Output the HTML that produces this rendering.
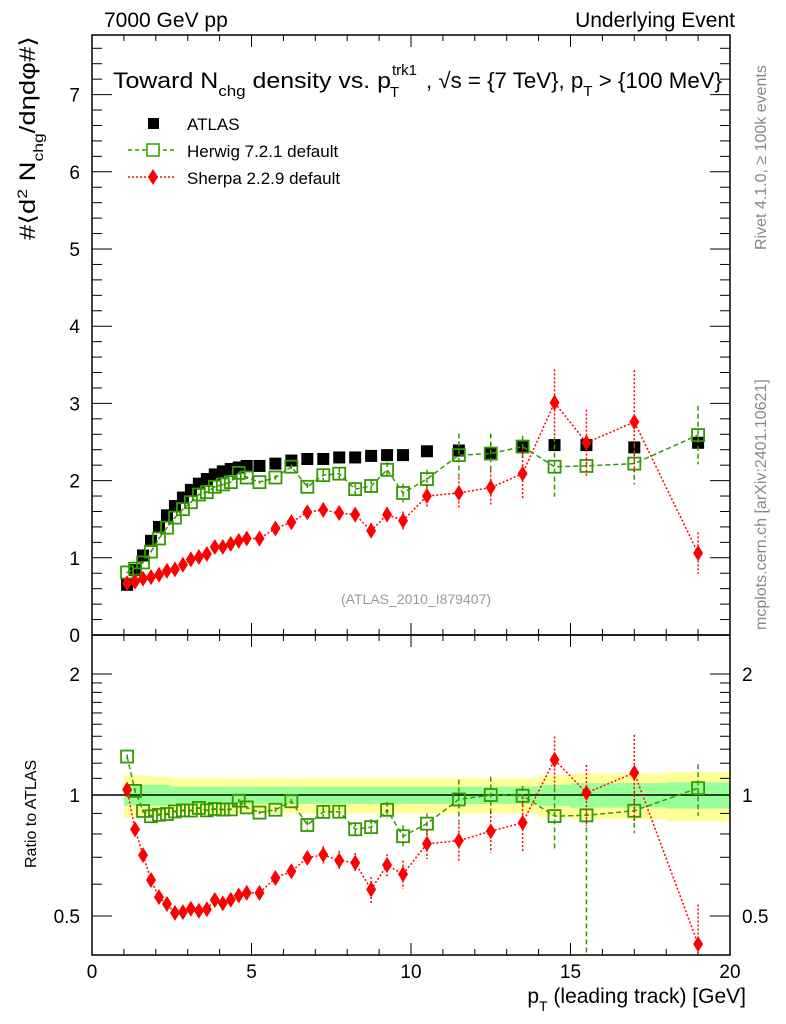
<!DOCTYPE html>
<html><head><meta charset="utf-8"><style>
body{margin:0;background:#fff;}
svg{display:block;font-family:"Liberation Sans",sans-serif;}
</style></head><body>
<svg id="chart" width="786" height="1024" viewBox="0 0 786 1024" xmlns="http://www.w3.org/2000/svg">
<text x="104" y="27" font-size="21">7000 GeV pp</text>
<text x="735" y="27" font-size="21" text-anchor="end">Underlying Event</text>
<g font-size="22">
<text x="113" y="88" textLength="278" lengthAdjust="spacingAndGlyphs">Toward N<tspan font-size="15" dy="8">chg</tspan><tspan dy="-8"> density vs. p</tspan></text>
<text x="392" y="75" font-size="15">trk1</text>
<text x="390" y="97" font-size="15">T</text>
<text x="426" y="88" textLength="296" lengthAdjust="spacingAndGlyphs">, √s = {7 TeV}, p<tspan font-size="15" dy="8">T</tspan><tspan dy="-8"> &gt; {100 MeV}</tspan></text>
</g>
<text transform="translate(766,250) rotate(-90)" font-size="16" fill="#888">Rivet 4.1.0, ≥ 100k events</text>
<text transform="translate(766,630) rotate(-90)" font-size="16" fill="#888">mcplots.cern.ch [arXiv:2401.10621]</text>
<text transform="translate(35,240) rotate(-90)" font-size="22" textLength="204" lengthAdjust="spacingAndGlyphs">#⟨d<tspan font-size="14" dy="-8">2</tspan><tspan dy="8"> N</tspan><tspan font-size="14" dy="8">chg</tspan><tspan dy="-8">/dηdφ#⟩</tspan></text>
<text transform="translate(36,868) rotate(-90)" font-size="16">Ratio to ATLAS</text>
<text x="746" y="1003" font-size="21" text-anchor="end">p<tspan font-size="14" dy="8">T</tspan><tspan dy="-8"> (leading track) [GeV]</tspan></text>
<text x="416" y="604" font-size="14" fill="#999" text-anchor="middle">(ATLAS_2010_I879407)</text>
<g id="g"></g>
</svg>
<script>
const xs=[1.1,1.35,1.6,1.85,2.1,2.35,2.6,2.85,3.1,3.35,3.6,3.85,4.1,4.35,4.6,4.85,5.25,5.75,6.25,6.75,7.25,7.75,8.25,8.75,9.25,9.75,10.5,11.5,12.5,13.5,14.5,15.5,17,19];
const atlas=[0.65,0.84,1.03,1.22,1.40,1.55,1.67,1.78,1.88,1.96,2.02,2.08,2.12,2.15,2.17,2.19,2.19,2.22,2.26,2.28,2.28,2.30,2.30,2.32,2.33,2.33,2.38,2.39,2.35,2.45,2.46,2.46,2.43,2.49];
const herwig=[0.81,0.86,0.94,1.08,1.25,1.39,1.52,1.63,1.72,1.82,1.85,1.92,1.95,1.98,2.10,2.04,1.98,2.04,2.18,1.92,2.07,2.09,1.89,1.93,2.14,1.84,2.02,2.33,2.35,2.44,2.18,2.19,2.22,2.59];
const herwigErr=[0.01,0.01,0.01,0.01,0.01,0.01,0.01,0.01,0.01,0.01,0.01,0.01,0.01,0.01,0.02,0.02,0.02,0.03,0.03,0.05,0.07,0.08,0.08,0.09,0.10,0.12,0.12,0.28,0.26,0.14,0.39,0.05,0.27,0.38];
const sherpa=[0.67,0.69,0.73,0.75,0.78,0.83,0.85,0.91,0.98,1.01,1.05,1.14,1.14,1.18,1.22,1.25,1.25,1.38,1.46,1.59,1.62,1.58,1.56,1.35,1.56,1.48,1.80,1.84,1.91,2.09,3.01,2.49,2.76,1.06];
const sherpaErr=[0.01,0.01,0.01,0.01,0.01,0.01,0.01,0.01,0.01,0.01,0.01,0.02,0.02,0.02,0.02,0.02,0.03,0.04,0.05,0.06,0.08,0.09,0.09,0.1,0.1,0.12,0.15,0.2,0.22,0.33,0.43,0.43,0.67,0.27];
const bandStat=[0.06,0.06,0.06,0.06,0.06,0.06,0.05,0.05,0.05,0.05,0.05,0.05,0.05,0.05,0.05,0.05,0.05,0.05,0.05,0.05,0.05,0.05,0.05,0.05,0.05,0.05,0.05,0.05,0.05,0.05,0.06,0.07,0.07,0.075];
const bandTot=[0.12,0.12,0.12,0.11,0.11,0.11,0.1,0.1,0.1,0.1,0.1,0.1,0.1,0.1,0.1,0.1,0.1,0.1,0.1,0.1,0.1,0.1,0.1,0.1,0.1,0.1,0.1,0.1,0.1,0.1,0.12,0.13,0.13,0.14];
const mainTicks=[0,1,2,3,4,5,6,7];
const ratioTicks=[0.5,1,2];
const xTicks=[0,5,10,15,20];

const NS="http://www.w3.org/2000/svg";
const g=document.getElementById('g');
const L=92,R=730,MT=35,MB=635,RB=955;
const X=v=>L+(R-L)*v/20;
const Y=v=>MB-v*77.2;
const YR=v=>795-402*Math.log10(v);
function mk(t,a,p){const e=document.createElementNS(NS,t);for(const k in a)e.setAttribute(k,a[k]);(p||g).appendChild(e);return e;}

const edges=[1.0];
for(let i=0;i<xs.length-1;i++)edges.push((xs[i]+xs[i+1])/2);
edges.push(20);
for(let i=0;i<xs.length;i++){
  const y1=mk('rect',{x:X(edges[i]),width:X(edges[i+1])-X(edges[i])+0.5,y:YR(1+bandTot[i]),height:YR(1-bandTot[i])-YR(1+bandTot[i]),fill:'#ffff99'});
  
  
  const s1=mk('rect',{x:X(edges[i]),width:X(edges[i+1])-X(edges[i])+0.5,y:YR(1+bandStat[i]),height:YR(1-bandStat[i])-YR(1+bandStat[i]),fill:'#99ff99'});
  
  
}
const ref=mk('line',{x1:L,x2:R,y1:YR(1),y2:YR(1),stroke:'#000','stroke-width':1.5});



const f1=mk('rect',{x:L,y:MT,width:R-L,height:MB-MT,fill:'none',stroke:'#000','stroke-width':1.5});


const f2=mk('rect',{x:L,y:MB,width:R-L,height:RB-MB,fill:'none',stroke:'#000','stroke-width':1.5});



function tick(x1,y1,x2,y2){mk('line',{x1,y1,x2,y2,stroke:'#000','stroke-width':1});}
for(let v=0;v<=20;v++){
  const big=v%5===0,x=X(v),len=big?12:6;
  tick(x,MB,x,MB-len);tick(x,MT,x,MT+len);tick(x,RB,x,RB-len);tick(x,MB,x,MB+len);
}
for(const v of xTicks){
  const t=mk('text',{x:X(v),y:978,'font-size':19,'text-anchor':'middle'});t.textContent=v;
  
  
}
for(let k=0;k<=38;k++){
  const v=k*0.2,y=Y(v);if(y<MT)break;
  const big=k%5===0,len=big?20:10;
  tick(L,y,L+len,y);tick(R,y,R-len,y);
}
for(const v of mainTicks){
  const t=mk('text',{x:80,y:Y(v)+7,'font-size':19,'text-anchor':'end'});t.textContent=v;
  
  
}
const rmin=[0.4,0.6,0.7,0.8,0.9,1.1,1.2,1.3,1.4,1.5,1.6,1.7,1.8,1.9];
for(const v of rmin){const y=YR(v);if(y>RB||y<MB)continue;tick(L,y,L+10,y);tick(R,y,R-10,y);}
for(const v of ratioTicks){
  const y=YR(v);tick(L,y,L+20,y);tick(R,y,R-20,y);
  const t=mk('text',{x:80,y:y+7,'font-size':19,'text-anchor':'end'});t.textContent=v;
  
  
  const t2=mk('text',{x:742,y:y+7,'font-size':19});t2.textContent=v;
  
  
}

function clipY(y,top,bot){return Math.max(top,Math.min(bot,y));}
function series(vals,errs,color,dash,marker,name,ratio){
  const Yf=ratio?YR:Y,top=ratio?MB:MT,bot=ratio?RB:MB;
  const pts=xs.map((x,i)=>{const v=ratio?vals[i]/atlas[i]:vals[i];return [X(x),clipY(Yf(v),top,bot)];});
  if(color!=='#000'){
    const pl=mk('polyline',{points:pts.map(p=>p.join(',')).join(' '),fill:'none',stroke:color,'stroke-width':1.5,'stroke-dasharray':dash});
    
    
  }
  xs.forEach((x,i)=>{
    const v=ratio?vals[i]/atlas[i]:vals[i],e=ratio?errs[i]/atlas[i]:errs[i];
    const cx=X(x);
    let lo=v-e;if(ratio&&name==='herwig'&&i===31)lo=0.3;
    const yt=clipY(Yf(v+e),top,bot),yb=clipY(ratio?YR(Math.max(lo,0.3)):Y(lo),top,bot);
    const eb=mk('line',{x1:cx,x2:cx,y1:yt,y2:yb,stroke:color,'stroke-width':1.5,'stroke-dasharray':dash});
    
    
    const [px,py]=pts[i];
    let m;
    if(marker==='sq')m=mk('rect',{x:px-6,y:py-6,width:12,height:12,fill:'#000'});
    else if(marker==='osq')m=mk('rect',{x:px-6,y:py-6,width:12,height:12,fill:'#fff','fill-opacity':0,stroke:color,'stroke-width':1.8});
    else m=mk('polygon',{points:`${px},${py-8} ${px+5},${py} ${px},${py+8} ${px-5},${py}`,fill:color});
    
    
  });
}
const atlasErr=atlas.map(()=>0.01);
series(atlas,atlasErr,'#000','', 'sq','atlas',false);
series(herwig,herwigErr,'#339900','5,3','osq','herwig',false);
series(sherpa,sherpaErr,'#ff0000','2,2','dia','sherpa',false);
series(herwig,herwigErr,'#339900','5,3','osq','herwig',true);
series(sherpa,sherpaErr,'#ff0000','2,2','dia','sherpa',true);

const lg=mk('g',{});


mk('rect',{x:148,y:118,width:11,height:11,fill:'#000'},lg);
mk('line',{x1:128,x2:176,y1:150,y2:150,stroke:'#339900','stroke-width':1.5,'stroke-dasharray':'4,3'},lg);
mk('rect',{x:147,y:144,width:12,height:12,fill:'#fff',stroke:'#339900','stroke-width':1.5},lg);
mk('line',{x1:128,x2:176,y1:177,y2:177,stroke:'#ff0000','stroke-width':1.5,'stroke-dasharray':'2,2'},lg);
mk('polygon',{points:'153,169 158,177 153,185 148,177',fill:'#ff0000'},lg);
[['ATLAS',130],['Herwig 7.2.1 default',157],['Sherpa 2.2.9 default',184]].forEach(([s,y])=>{
  const t=mk('text',{x:187,y:y,'font-size':17},lg);t.textContent=s;
  
  
});
</script>
</body></html>
